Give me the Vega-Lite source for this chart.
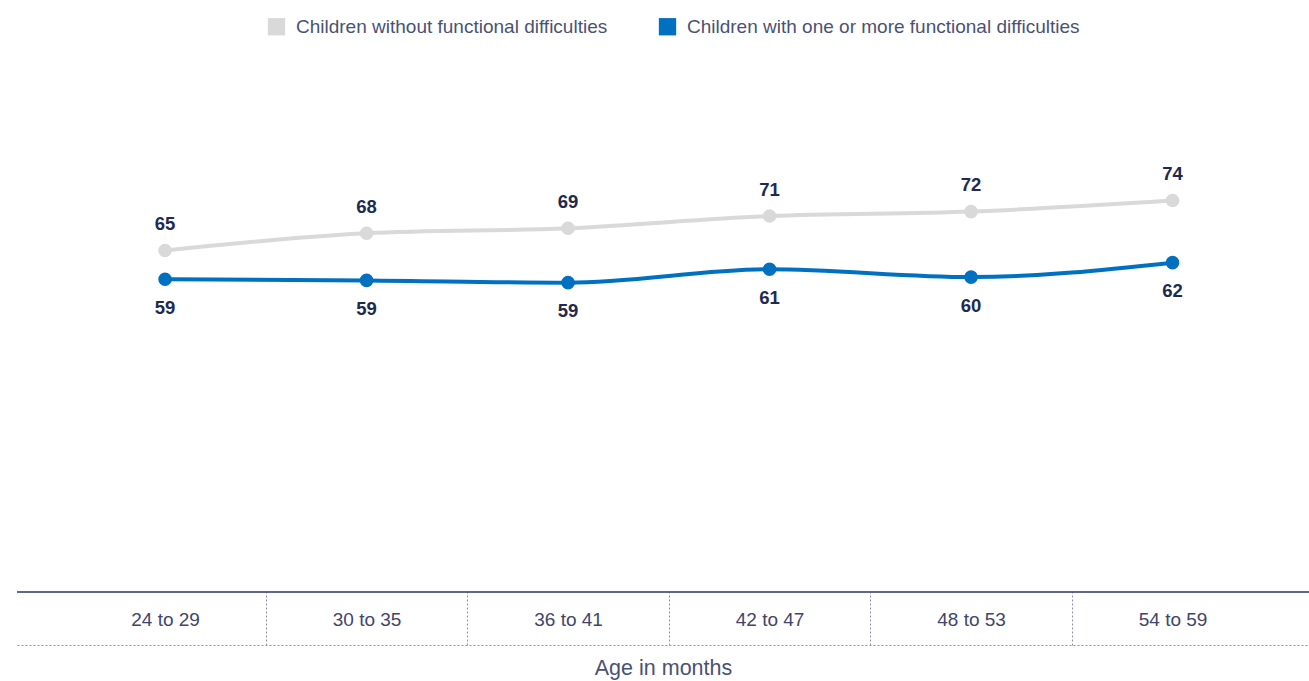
{
  "$schema": "https://vega.github.io/schema/vega-lite/v6.json",
  "width": 1292,
  "height": 591,
  "autosize": {"type": "none"},
  "padding": {"left": 17, "top": 54, "right": 0, "bottom": 36},
  "background": "white",
  "config": {"view": {"stroke": null}, "font": "Liberation Sans"},
  "data": {
    "values": [
      {"age": "24 to 29", "series": "Children without functional difficulties", "value": 64.6},
      {"age": "30 to 35", "series": "Children without functional difficulties", "value": 67.7},
      {"age": "36 to 41", "series": "Children without functional difficulties", "value": 68.6},
      {"age": "42 to 47", "series": "Children without functional difficulties", "value": 70.8},
      {"age": "48 to 53", "series": "Children without functional difficulties", "value": 71.6},
      {"age": "54 to 59", "series": "Children without functional difficulties", "value": 73.6},
      {"age": "24 to 29", "series": "Children with one or more functional difficulties", "value": 59.4},
      {"age": "30 to 35", "series": "Children with one or more functional difficulties", "value": 59.2},
      {"age": "36 to 41", "series": "Children with one or more functional difficulties", "value": 58.8},
      {"age": "42 to 47", "series": "Children with one or more functional difficulties", "value": 61.2},
      {"age": "48 to 53", "series": "Children with one or more functional difficulties", "value": 59.8},
      {"age": "54 to 59", "series": "Children with one or more functional difficulties", "value": 62.4}
    ]
  },
  "layer": [
    {
      "data": {"values": [{"baseline": 3.05}]},
      "mark": {"type": "rule", "color": "#2b3560", "strokeWidth": 1.5},
      "encoding": {
        "y": {"field": "baseline", "type": "quantitative", "scale": {"domain": [-6.5, 100], "nice": false, "zero": false}, "axis": null}
      }
    },
    {
      "mark": {"type": "line", "interpolate": "monotone", "strokeWidth": 4},
      "encoding": {
        "x": {
          "field": "age", "type": "nominal", "sort": null,
          "scale": {"type": "band", "paddingInner": 0, "paddingOuter": 0.206, "align": 0.57},
          "axis": {
            "title": "Age in months",
            "titleFont": "Liberation Sans", "titleFontSize": 21.5, "titleFontWeight": "normal", "titleColor": "#4a5273", "titlePadding": 12,
            "labelFont": "Liberation Sans", "labelFontSize": 19, "labelColor": "#3f4669", "labelAngle": 0, "labelBaseline": "middle", "labelPadding": 27,
            "domainColor": "#8c90a8", "domainDash": [2, 2], "domainWidth": 1,
            "tickBand": "extent", "tickSize": -53, "tickColor": "#8c90a8", "tickDash": [2, 2], "tickWidth": 1,
            "tickOpacity": {"condition": {"test": "datum.index < 0 || datum.index >= 1", "value": 0}, "value": 1},
            "grid": false
          }
        },
        "y": {"field": "value", "type": "quantitative", "scale": {"domain": [-6.5, 100], "nice": false, "zero": false}, "axis": null},
        "color": {
          "field": "series", "type": "nominal",
          "scale": {"domain": ["Children without functional difficulties", "Children with one or more functional difficulties"], "range": ["#d9d9d9", "#0070c0"]},
          "legend": {
            "orient": "none", "direction": "horizontal", "legendX": 250, "legendY": -37, "title": null,
            "symbolType": "square", "symbolSize": 300, "symbolStrokeWidth": 0, "symbolFillColor": null,
            "labelFontSize": 19, "labelColor": "#4a5273", "labelFont": "Liberation Sans", "labelLimit": 600, "labelOffset": 10,
            "columnPadding": 50, "padding": 0
          }
        }
      }
    },
    {
      "mark": {"type": "circle", "size": 185, "opacity": 1},
      "encoding": {
        "x": {"field": "age", "type": "nominal", "sort": null},
        "y": {"field": "value", "type": "quantitative"},
        "color": {"field": "series", "type": "nominal"}
      }
    },
    {
      "transform": [{"filter": "datum.series === 'Children without functional difficulties'"}],
      "mark": {"type": "text", "dy": -26.5, "fontSize": 18.5, "fontWeight": "bold", "color": "#1f2a50", "baseline": "middle", "font": "Liberation Sans"},
      "encoding": {
        "x": {"field": "age", "type": "nominal", "sort": null},
        "y": {"field": "value", "type": "quantitative"},
        "text": {"field": "value", "type": "quantitative", "format": ".0f"}
      }
    },
    {
      "transform": [{"filter": "datum.series === 'Children with one or more functional difficulties'"}],
      "mark": {"type": "text", "dy": 28.5, "fontSize": 18.5, "fontWeight": "bold", "color": "#1f2a50", "baseline": "middle", "font": "Liberation Sans"},
      "encoding": {
        "x": {"field": "age", "type": "nominal", "sort": null},
        "y": {"field": "value", "type": "quantitative"},
        "text": {"field": "value", "type": "quantitative", "format": ".0f"}
      }
    }
  ]
}
